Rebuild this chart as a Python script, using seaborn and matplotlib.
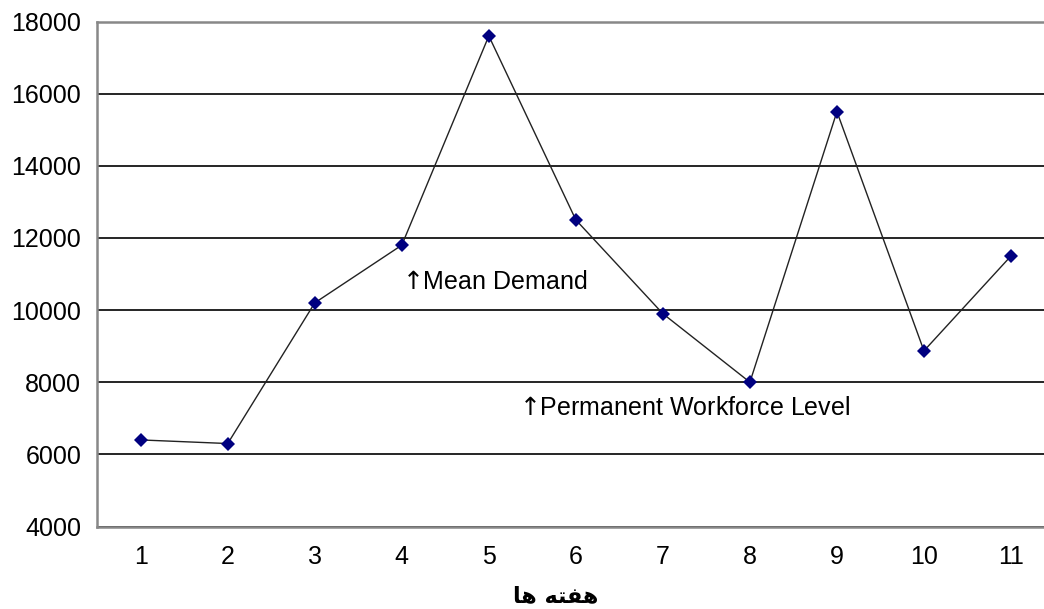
import numpy as np
import pandas as pd
import matplotlib
matplotlib.use('Agg')
import matplotlib.pyplot as plt
from matplotlib.ticker import MultipleLocator, FixedLocator
import seaborn as sns

weeks   = [1, 2, 3, 4, 5, 6, 7, 8, 9, 10, 11]
demand  = [6400, 6300, 10200, 11800, 17600, 12500, 9900, 8000, 15500, 8870, 11500]
xlabel  = 'هفته ها'
mean_label = '$\u2191$Mean Demand'
perm_label = '$\u2191$Permanent Workforce Level'
perm_level = 7285


def shape_arabic(text):
    # tiny shaper: presentation forms + visual (right to left) order
    forms = {'ه': ('\uFEE9', '\uFEEA', '\uFEEB', '\uFEEC'),
             'ف': ('\uFED1', '\uFED2', '\uFED3', '\uFED4'),
             'ت': ('\uFE95', '\uFE96', '\uFE97', '\uFE98'),
             'ا': ('\uFE8D', '\uFE8E', None, None)}
    out = []
    for i, ch in enumerate(text):
        if ch not in forms:
            out.append(ch)
            continue
        prev = text[i-1] if i > 0 else ''
        nxt = text[i+1] if i+1 < len(text) else ''
        joins_prev = prev in forms and forms[prev][2] is not None
        joins_next = nxt in forms and forms[ch][2] is not None
        iso, fin, ini, med = forms[ch]
        if joins_prev and joins_next:
            out.append(med)
        elif joins_prev:
            out.append(fin)
        elif joins_next:
            out.append(ini)
        else:
            out.append(iso)
    return ''.join(out[::-1])


sns.set_style('white')
plt.rcParams['font.family'] = ['Liberation Sans', 'DejaVu Sans']
plt.rcParams.update({'font.size': 18,
                     'mathtext.fontset': 'dejavusans',
                     'text.color': 'black',
                     'xtick.color': 'black',
                     'ytick.color': 'black',
                     'xtick.labelcolor': 'black',
                     'ytick.labelcolor': 'black'})

df = pd.DataFrame({'week': weeks, 'demand': demand})

fig = plt.figure(figsize=(10.44, 6.09), dpi=100)
ax = fig.add_axes([97.2/1044, 82.5/609, 957.3/1044, 505/609])

sns.lineplot(data=df, x='week', y='demand', ax=ax, color='#222222', lw=1.0,
             marker='D', markersize=7.4, markerfacecolor='#000080',
             markeredgewidth=0, zorder=3)

ax.set_xlim(0.5, 11.5)
ax.set_ylim(4000, 18000)
ax.yaxis.set_major_locator(MultipleLocator(2000))
ax.set_xticks(weeks)
ax.xaxis.set_minor_locator(FixedLocator(np.arange(1.5, 11.5, 1)))
ax.tick_params(axis='x', which='major', length=0, pad=13, labelsize=18)
ax.tick_params(axis='x', which='minor', length=4, width=1, color='#222222', direction='out')
ax.tick_params(axis='y', which='major', length=5, width=1.5, color='#888888',
               direction='out', pad=6.5, labelsize=18)

ax.grid(axis='y', color='black', lw=1.2)
ax.set_axisbelow(True)
for side in ['left', 'bottom', 'top']:
    ax.spines[side].set_color('#888888')
    ax.spines[side].set_linewidth(1.8)
ax.spines['right'].set_visible(False)
ax.set_xlabel('')
ax.set_ylabel('')

ax.text(4.0, np.mean(demand), mean_label, ha='left', va='center', fontsize=18)
ax.text(5.35, perm_level, perm_label, ha='left', va='center', fontsize=18)

fig.text(556/1044, 1 - 596/609, shape_arabic(xlabel), ha='center', va='center',
         fontsize=16, family=['DejaVu Sans'], fontweight='bold')

fig.savefig('out.png', dpi=100)
